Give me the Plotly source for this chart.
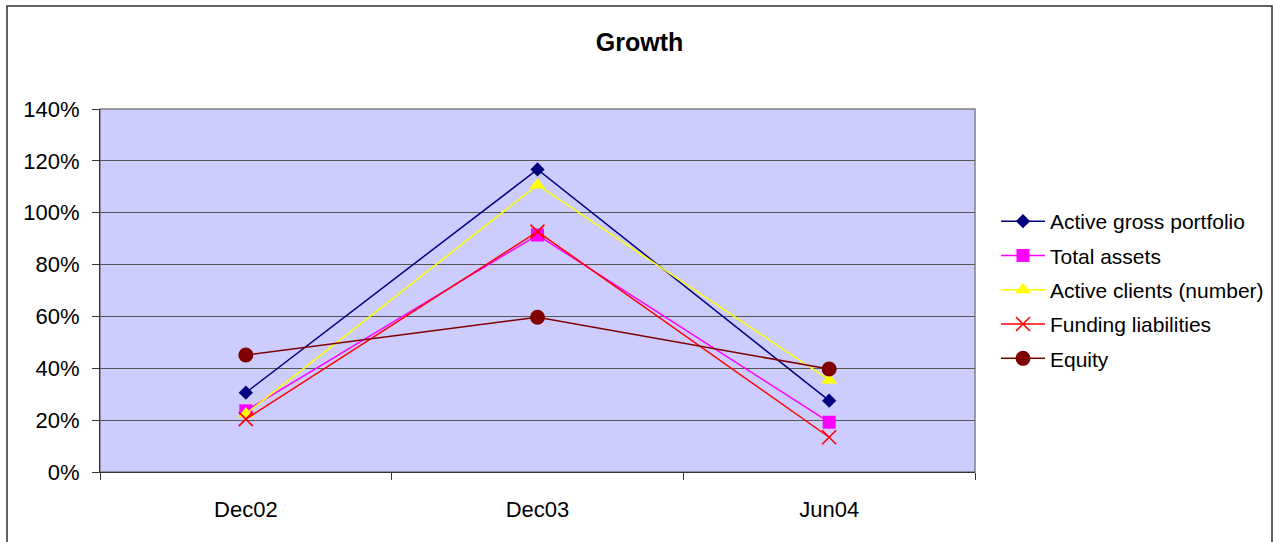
import plotly.graph_objects as go

# Growth rates per period (fractions, shown as percentages)
periods = ["Dec02", "Dec03", "Jun04"]
active_gross_portfolio = [0.306, 1.167, 0.275]
total_assets = [0.236, 0.914, 0.192]
active_clients = [0.224, 1.107, 0.355]
funding_liabilities = [0.204, 0.927, 0.134]
equity = [0.451, 0.597, 0.397]

y_ticks = [0, 0.2, 0.4, 0.6, 0.8, 1.0, 1.2, 1.4]

series = [
    ("Active gross portfolio", active_gross_portfolio, "#000080", "diamond", 11),
    ("Total assets", total_assets, "#FF00FF", "square", 13),
    ("Active clients (number)", active_clients, "#FFFF00", "triangle-up", 14),
    ("Funding liabilities", funding_liabilities, "#FF0000", "x-thin", 14),
    ("Equity", equity, "#800000", "circle", 15),
]

fig = go.Figure()
for i, (name, vals, color, symbol, size) in enumerate(series):
    marker = dict(symbol=symbol, size=size, color=color)
    if symbol == "x-thin":
        marker["line"] = dict(color=color, width=1.6)
    else:
        marker["line"] = dict(color=color, width=0)
    fig.add_trace(go.Scatter(
        x=periods, y=vals, name=name, mode="lines+markers",
        line=dict(color=color, width=1.5),
        marker=marker,
        legendgroup=f"g{i}",
    ))

font_family = "Liberation Sans, Arial, sans-serif"

# pixel layout helpers: paper spans x 100..1253, plot area spans x 100..975
L, R, T, B = 100, 20, 109, 70
paper_w = 1273 - L - R
paper_h = 542 - T - B
plot_right = (975 - L) / paper_w


def px_x(p):
    return (p - L) / paper_w


def px_y(p):
    return (542 - B - p) / paper_h


fig.update_layout(
    width=1273, height=542,
    margin=dict(l=L, r=R, t=T, b=B, autoexpand=False),
    paper_bgcolor="white",
    plot_bgcolor="#CCCCFF",
    font=dict(family=font_family, size=22, color="black"),
    title=dict(text="<b>Growth</b>", x=0.5024, xref="container", xanchor="center",
               y=1 - 42 / 542, yref="container", yanchor="middle",
               font=dict(size=25, family=font_family, color="black")),
    showlegend=True,
    legend=dict(x=px_x(996), xanchor="left", y=px_y(290), yanchor="middle",
                font=dict(size=21, family=font_family), tracegroupgap=4,
                bgcolor="rgba(0,0,0,0)", itemwidth=44),
    xaxis=dict(type="category", range=[-0.5, 2.5], tickson="boundaries",
               domain=[0, plot_right],
               ticks="outside", ticklen=7, tickcolor="#333333",
               showgrid=False, showline=True, linecolor="#333333", linewidth=1,
               ticklabelstandoff=18, tickfont=dict(size=22)),
    yaxis=dict(range=[0, 1.4], tickvals=y_ticks, tickformat=".0%",
               ticks="outside", ticklen=7, tickcolor="#333333",
               showgrid=True, gridcolor="#555555", gridwidth=1,
               showline=True, linecolor="#333333", linewidth=1,
               zeroline=False, ticklabelstandoff=8, tickfont=dict(size=22)),
    shapes=[
        # plot area frame
        dict(type="rect", xref="x domain", yref="y domain", x0=0, x1=1, y0=0, y1=1,
             line=dict(color="#808080", width=1.5), layer="below"),
        # chart outer border
        dict(type="rect", xref="paper", yref="paper",
             x0=px_x(7), x1=px_x(1272),
             y0=-0.35, y1=px_y(6),
             line=dict(color="#303030", width=1.5)),
    ],
)

fig.write_html("out.html")
